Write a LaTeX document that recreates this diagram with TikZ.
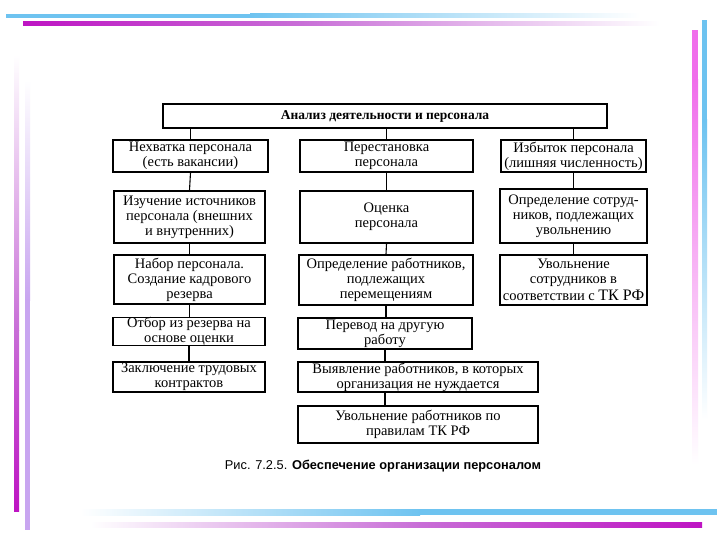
\documentclass[tikz,border=0pt]{standalone}
\usepackage{fontspec}
\setmainfont{Liberation Serif}
\setsansfont{Liberation Sans}
\usetikzlibrary{calc}
\definecolor{barblue}{RGB}{110,195,240}
\definecolor{barmag}{RGB}{190,20,195}
\definecolor{barmagl}{RGB}{200,110,215}
\definecolor{barpink}{RGB}{240,110,235}
\definecolor{barlilac}{RGB}{200,165,240}
\tikzset{
  box/.style={draw=black, line width=1.1pt, align=center, inner sep=0pt,
    font=\fontsize{14.5}{15}\selectfont},
  conn/.style={draw=black, line width=1.1pt}
}
\begin{document}
\begin{tikzpicture}[x=1pt,y=-1pt]
\useasboundingbox (0,0) rectangle (720,540);
\fill[white] (0,0) rectangle (720,540);
% decorative bars
\fill[barblue] (6,14) rectangle (250,18);
\shade[left color=barblue, right color=white] (250,14) rectangle (640,18);
\shade[left color=barmag, right color=barmagl] (23,22) rectangle (300,26);
\shade[left color=barmagl, right color=white] (300,22) rectangle (660,26);
\fill[barblue] (702,20) rectangle (707,120);
\shade[top color=barblue, bottom color=white] (702,120) rectangle (707,420);
\fill[barpink] (692,30) rectangle (698,80);
\shade[top color=barpink, bottom color=white] (692,80) rectangle (698,465);
\shade[left color=white, right color=barblue] (80,509) rectangle (420,515);
\fill[barblue] (420,509) rectangle (717,515);
\shade[left color=white, right color=barmagl] (90,522) rectangle (420,527);
\shade[left color=barmagl, right color=barmag] (420,522) rectangle (702,527);
\shade[top color=white, bottom color=barmagl] (14,55) rectangle (19,330);
\shade[top color=barmagl, bottom color=barmag] (14,330) rectangle (19,511);
\shade[top color=white, bottom color=barlilac] (25,80) rectangle (30,300);
\fill[barlilac] (25,300) rectangle (30,530);
% boxes
\node[box, minimum width=444pt, minimum height=24pt, font=\fontsize{13.5}{15}\selectfont\bfseries] (T) at (385,116) {Анализ деятельности и персонала};
\node[box, minimum width=155pt, minimum height=32pt] (L1) at (190.5,156) {Нехватка персонала\\(есть вакансии)};
\node[box, line width=1.8pt, minimum width=173pt, minimum height=32pt] (M1) at (386.5,156) {Перестановка\\персонала};
\node[box, minimum width=145pt, minimum height=32pt] (R1) at (573.5,156) {Избыток персонала\\(лишняя численность)};
\node[box, minimum width=151pt, minimum height=52pt] (L2) at (189.5,217) {Изучение источников\\персонала (внешних\\и внутренних)};
\node[box, minimum width=173pt, minimum height=52pt] (M2) at (386.5,217) {Оценка\\персонала};
\node[box, minimum width=147pt, minimum height=54pt] (R2) at (573.5,216) {Определение сотруд-\\ников, подлежащих\\увольнению};
\node[box, minimum width=151pt, minimum height=49pt] (L3) at (189.5,279.5) {Набор персонала.\\Создание кадрового\\резерва};
\node[box, minimum width=174pt, minimum height=50pt] (M3) at (386,280) {Определение работников,\\подлежащих\\перемещениям};
\node[box, minimum width=147pt, minimum height=50pt] (R3) at (573.5,280) {Увольнение\\сотрудников в\\[1.5pt]соответствии с {\fontsize{16}{16}\selectfont ТК РФ}};
\node[box, minimum width=152pt, minimum height=27pt] (L4) at (189,331.5) {Отбор из резерва на\\основе оценки};
\node[box, minimum width=174pt, minimum height=31pt] (M4) at (385,333.5) {Перевод на другую\\работу};
\node[box, minimum width=152pt, minimum height=30pt] (L5) at (189,377) {Заключение трудовых\\контрактов};
\node[box, minimum width=240pt, minimum height=30pt] (M5) at (418,377) {Выявление работников, в которых\\организация не нуждается};
\node[box, minimum width=240pt, minimum height=37pt] (M6) at (418,424.5) {Увольнение работников по\\правилам ТК РФ};
% connectors
\draw[conn] (T.south -| L1.north) -- (L1.north);
\draw[conn] (T.south -| M1.north) -- (M1.north);
\draw[conn] (T.south -| R1.north) -- (R1.north);
\draw[conn] (L1.south) -- (L2.north);
\draw[conn] (L2.south) -- (L3.north);
\draw[conn] (L3.south) -- (L3.south |- L4.north);
\draw[conn] (L4.south) -- (L4.south |- L5.north);
\draw[conn] (M1.south) -- (M2.north);
\draw[conn] (M2.south) -- (M3.north);
\draw[conn] (M3.south) -- (M3.south |- M4.north);
\draw[conn] (M4.south) -- (M4.south |- M5.north);
\draw[conn] (M4.south |- M5.south) -- (M4.south |- M6.north);
\draw[conn] (R1.south) -- (R2.north);
\draw[conn] (R2.south) -- (R3.north);
% caption
\node[font=\sffamily\fontsize{12.8}{14}\selectfont] (cap) at (383,466) {Рис. 7.2.5. \textbf{Обеспечение организации персоналом}};
\end{tikzpicture}
\end{document}
